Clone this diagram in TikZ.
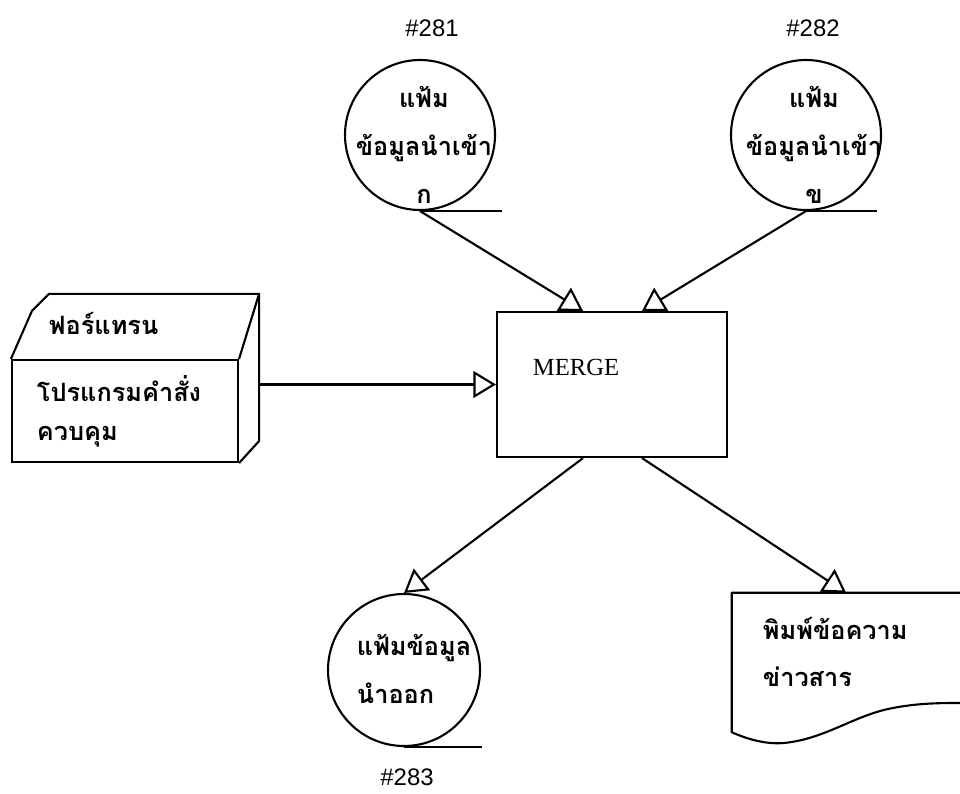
\documentclass[tikz,border=0pt]{standalone}
\usepackage{fontspec}
\newfontfamily\thaifont[Script=Thai]{Loma}
\newfontfamily\latinfont{Liberation Serif}
\newfontfamily\numfont{Liberation Sans}
\usetikzlibrary{arrows.meta}

\begin{document}
\begin{tikzpicture}[
  file/.style={circle, draw, line width=1.5pt, inner sep=0pt},
  flow/.style={-{Triangle[open, length=16pt, width=19pt, line width=1.5pt]}, line width=1.5pt},
  thai/.style={font=\thaifont\bfseries\fontsize{18}{34}\selectfont},
  num/.style={font=\numfont\fontsize{17}{18}\selectfont}
]
\useasboundingbox (0,0) rectangle (24,19.825);

% Input files
\node[file, minimum size=3.75cm] (in1) at (10.5, 16.45) {};
\node[thai, align=center] (in1txt) at (10.6, 16.2) {แฟ้ม\\ข้อมูลนำเข้า\\ก};
\draw[line width=1.5pt] (in1.south) -- ++(2.05, 0);
\node[num] (n281) at (10.8, 19.125) {\#281};

\node[file, minimum size=3.75cm] (in2) at (20.15, 16.45) {};
\node[thai, align=center] (in2txt) at (20.35, 16.2) {แฟ้ม\\ข้อมูลนำเข้า\\ข};
\draw[line width=1.5pt] (in2.south) -- ++(1.775, 0);
\node[num] (n282) at (20.325, 19.125) {\#282};

% Control program (card deck)
\node[draw, line width=1.5pt, minimum width=5.65cm, minimum height=2.55cm] (prog) at (3.125, 9.55) {};
\draw[line width=1.5pt, line join=round] (prog.north west) -- ++(0.525, 1.2) -- ++(0.425, 0.425)
  -- ([shift={(0.5, 1.625)}]prog.north east) -- (prog.north east);
\draw[line width=1.5pt, line join=round] ([shift={(0.5, 1.625)}]prog.north east)
  -- ([shift={(0.5, 0.55)}]prog.south east) -- (prog.south east);
\node[thai, anchor=west] (progtop) at (1.1, 11.75) {ฟอร์แทรน};
\node[thai, anchor=west] (progmid) at (0.8, 10.1) {โปรแกรมคำสั่ง};
\node[thai, anchor=west] (progbot) at (0.8, 8.9) {ควบคุม};

% Merge process
\node[draw, line width=1.5pt, minimum width=5.75cm, minimum height=3.625cm] (merge) at (15.3, 10.2125) {};
\node[anchor=west, font=\latinfont\fontsize{17.5}{20}\selectfont] (mergetxt) at (13.2, 10.65) {MERGE};

% Output file
\node[file, minimum size=3.8cm] (out) at (10.1, 3.075) {};
\node[thai, align=left, anchor=west] (outtxt) at (8.8, 3.1) {แฟ้มข้อมูล\\นำออก};
\draw[line width=1.5pt] (out.south) -- ++(1.95, 0);
\node[num] (n283) at (10.175, 0.4) {\#283};

% Printed report
\node[minimum width=5.7cm, minimum height=3.475cm, inner sep=0pt] (doc) at (21.15, 3.2625) {};
\draw[line width=1.5pt, line join=round] (doc.north east) -- (doc.north west) -- (doc.south west)
  .. controls (18.8, 1.3) and (19.2, 1.22) .. (19.6, 1.25)
  .. controls (20.6, 1.35) and (21.3, 1.9) .. (22.2, 2.1)
  .. controls (22.9, 2.25) and (23.5, 2.25) .. (24, 2.25);
\node[thai, align=left, anchor=west] (doctxt) at (18.95, 3.525) {พิมพ์ข้อความ\\ข่าวสาร};

% Flows
\draw[flow] (in1.south) -- ([xshift=-0.725cm]merge.north);
\draw[flow] (in2.south) -- ([xshift=0.75cm]merge.north);
\draw[flow] ([xshift=0.5cm]prog.east |- merge.west) -- (merge.west);
\draw[flow] ([xshift=-0.725cm]merge.south) -- (out.north);
\draw[flow] ([xshift=0.75cm]merge.south) -- (doc.north);

\end{tikzpicture}
\end{document}
